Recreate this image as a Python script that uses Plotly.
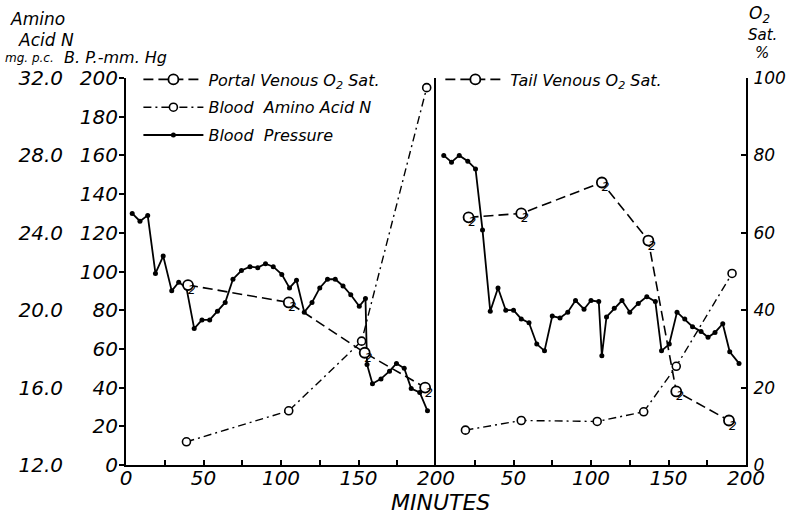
import plotly.graph_objects as go

# ---- Left panel: portal series ----
bp_left_min = [4, 9, 14, 19, 24, 29.5, 34, 39, 44, 49, 54, 59, 64, 69, 74.5, 80, 85, 90, 95,
               100.5, 105.5, 110, 115, 120, 125, 130, 135, 140, 145, 150.5, 154.5, 155.5,
               159, 164.5, 170, 174.5, 179.5, 184, 189.5, 194.5]
bp_left = [130, 126, 129, 99, 108, 90, 94.5, 91.5, 70.5, 75, 75, 79.5, 84, 96, 100.5, 102.5,
           102, 104, 102.5, 98.5, 91.5, 95.5, 79, 84, 91.5, 96, 96, 92.5, 88, 82, 86, 52,
           42, 44.5, 48.5, 52.5, 50, 39.5, 37.5, 28]

portal_min = [40, 105, 154, 193]
portal_o2 = [46.5, 42, 29, 20]

amino_left_min = [39, 105, 152, 194]
amino_left = [13.2, 14.8, 18.4, 31.5]

# ---- Right panel: tail series ----
bp_right_min = [5, 10, 15, 20.5, 25.5, 30, 35, 40, 45, 50, 55, 60, 65, 70, 75, 80, 85, 90,
                95.5, 100, 105, 107, 110, 115, 120, 125, 130.5, 136, 141.5, 145.5, 150.5,
                155.5, 160.5, 165.5, 171, 175.5, 180, 185, 189.5, 195.5]
bp_right = [160, 156.5, 160, 157, 153, 121.5, 79.5, 91.5, 80, 80, 75.5, 73.5, 62.5, 59, 77,
            76, 79, 85, 80.5, 85, 84.5, 56.5, 76.5, 81, 85, 79, 83.5, 87, 84.5, 59, 62.5,
            79, 75.5, 71.5, 69, 66, 68.5, 73, 58.5, 52.5]

tail_min = [21, 55, 107, 137, 155, 189]
tail_o2 = [64, 65, 73, 58, 19, 11.5]

amino_right_min = [19, 55, 104, 134, 155, 191]
amino_right = [13.8, 14.3, 14.25, 14.75, 17.1, 21.9]

# ---- Axis ticks ----
bp_ticks = [0, 20, 40, 60, 80, 100, 120, 140, 160, 180, 200]
amino_ticks = [12.0, 16.0, 20.0, 24.0, 28.0, 32.0]
o2_ticks = [0, 20, 40, 60, 80, 100]
minute_ticks_left = [0, 50, 100, 150, 200]
minute_ticks_right = [50, 100, 150, 200]

INK = "black"
FONT = "DejaVu Sans"
O2_DASH = "10px,5px"
AMINO_DASH = "8px,4px,2px,4px"

fig = go.Figure()


def o2_traces(xs, ys, xa, ya, name, legend):
    fig.add_trace(go.Scatter(
        x=xs, y=ys, xaxis=xa, yaxis=ya, mode="lines+markers", name=name,
        legend=legend, legendgroup="o2" + xa,
        line=dict(color=INK, width=1.6, dash=O2_DASH),
        marker=dict(symbol="circle", size=10, color="white", line=dict(color=INK, width=1.8)),
        hoverinfo="skip"))
    # subscript "2" beside each O marker
    fig.add_trace(go.Scatter(
        x=xs, y=ys, xaxis=xa, yaxis=ya, mode="text", text=["2"] * len(xs),
        textposition="bottom right", showlegend=False,
        textfont=dict(family=FONT, size=12, color=INK), hoverinfo="skip"))


def amino_trace(xs, ys, xa, ya, show):
    fig.add_trace(go.Scatter(
        x=xs, y=ys, xaxis=xa, yaxis=ya, mode="lines+markers", name="Blood  Amino Acid N",
        showlegend=show, legend="legend", legendgroup="amino",
        line=dict(color=INK, width=1.4, dash=AMINO_DASH),
        marker=dict(symbol="circle", size=8, color="white", line=dict(color=INK, width=1.6)),
        hoverinfo="skip"))


def bp_trace(xs, ys, xa, ya, show):
    fig.add_trace(go.Scatter(
        x=xs, y=ys, xaxis=xa, yaxis=ya, mode="lines+markers", name="Blood  Pressure",
        showlegend=show, legend="legend", legendgroup="bp",
        line=dict(color=INK, width=1.8),
        marker=dict(symbol="circle", size=5, color=INK),
        hoverinfo="skip"))


o2_traces(portal_min, portal_o2, "x", "y2", "Portal Venous O<sub>2</sub> Sat.", "legend")
amino_trace(amino_left_min, amino_left, "x", "y3", True)
bp_trace(bp_left_min, bp_left, "x", "y", True)

o2_traces(tail_min, tail_o2, "x2", "y5", "Tail Venous O<sub>2</sub> Sat.", "legend2")
amino_trace(amino_right_min, amino_right, "x2", "y6", False)
bp_trace(bp_right_min, bp_right, "x2", "y4", False)

tickfont = dict(family=FONT, size=20, color=INK, style="italic")
right_tickfont = dict(family=FONT, size=17, color=INK, style="italic")
hidden = dict(visible=False, showgrid=False, zeroline=False, automargin=False)
minor_ticks = dict(dtick=25, ticks="inside", ticklen=5, tickwidth=1.5, tickcolor=INK)
axis_line = dict(showline=True, linecolor=INK, linewidth=2, showgrid=False,
                 zeroline=False, automargin=False)

fig.update_layout(
    width=788, height=515,
    margin=dict(l=126, r=42, t=78, b=50, pad=0, autoexpand=False),
    paper_bgcolor="white", plot_bgcolor="white",
    font=dict(family=FONT, color=INK, style="italic"),
    showlegend=True,
    xaxis=dict(domain=[0, 0.5], range=[0, 200], anchor="y",
               tickvals=minute_ticks_left, ticks="inside", ticklen=5, tickwidth=1.5,
               tickcolor=INK, minor=minor_ticks, tickfont=tickfont, ticklabelstandoff=-6,
               **axis_line),
    xaxis2=dict(domain=[0.5, 1], range=[0, 200], anchor="y4",
                tickvals=minute_ticks_right, ticks="inside", ticklen=5, tickwidth=1.5,
                tickcolor=INK, minor=minor_ticks, tickfont=tickfont, ticklabelstandoff=-6,
                **axis_line),
    yaxis=dict(range=[0, 200], anchor="x", tickvals=bp_ticks, ticks="outside", ticklen=5,
               tickwidth=1.5, tickcolor=INK, tickfont=tickfont, ticklabelstandoff=-3,
               **axis_line),
    yaxis2=dict(range=[0, 100], overlaying="y", anchor="x", **hidden),
    yaxis3=dict(range=[12, 32], overlaying="y", anchor="x", side="left",
                tickvals=amino_ticks, tickformat=".1f", ticks="", showline=False,
                showgrid=False, zeroline=False, automargin=False,
                tickfont=tickfont, ticklabelstandoff=62),
    yaxis4=dict(range=[0, 200], anchor="x2", showticklabels=False, ticks="", **axis_line),
    yaxis5=dict(range=[0, 100], overlaying="y4", anchor="x2", side="right",
                tickvals=o2_ticks, ticks="inside", ticklen=5, tickwidth=1.5, tickcolor=INK,
                tickfont=right_tickfont, ticklabelstandoff=2, **axis_line),
    yaxis6=dict(range=[12, 32], overlaying="y4", anchor="x2", **hidden),
    legend=dict(x=0.02, y=1.04, xanchor="left", yanchor="top", bgcolor="rgba(0,0,0,0)",
                font=dict(family=FONT, size=16, color=INK, style="italic"),
                itemwidth=60, tracegroupgap=4, traceorder="grouped"),
    legend2=dict(x=0.507, y=1.04, xanchor="left", yanchor="top", bgcolor="rgba(0,0,0,0)",
                 itemwidth=60,
                 font=dict(family=FONT, size=16, color=INK, style="italic")),
)


# axis titles
def label(text, px, py, size, anchor="left"):
    fig.add_annotation(text=text, xref="paper", yref="paper",
                       x=(px - 126) / 620, y=(466 - py) / 388,
                       xanchor=anchor, yanchor="middle", showarrow=False,
                       font=dict(family=FONT, size=size, color=INK, style="italic"))


label("Amino", 8, 19, 17)
label("Acid N", 16, 40, 17)
label("mg. p.c.", 3, 58, 12)
label("B. P.-mm. Hg", 62, 57, 16)
label("O<sub>2</sub>", 760, 14, 17, "center")
label("Sat.", 762, 35, 15, "center")
label("%", 762, 53, 15, "center")
label("MINUTES", 440, 504, 22, "center")

fig.write_html("out.html")
